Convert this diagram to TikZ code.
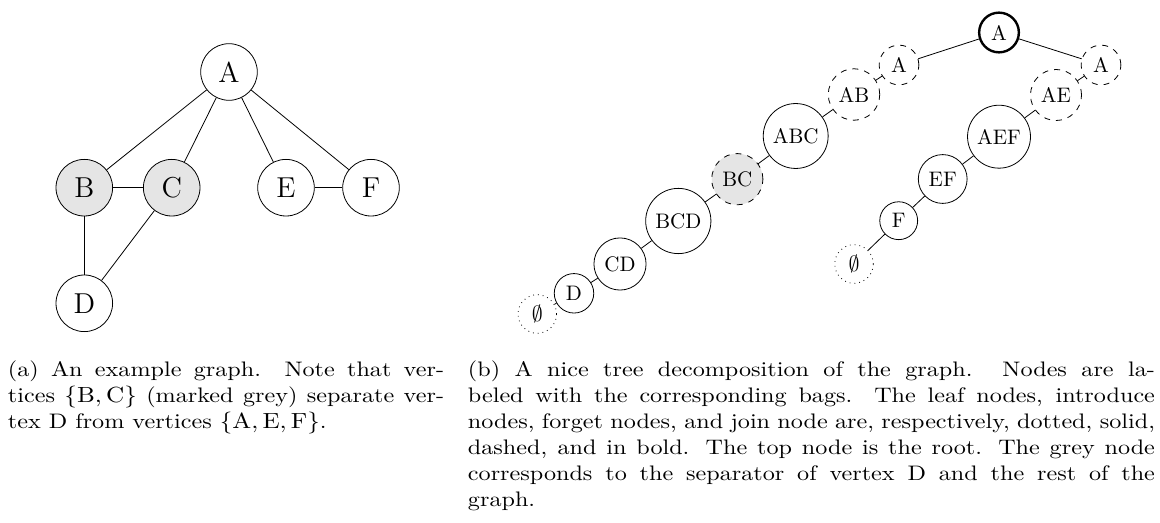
\documentclass[tikz,border=0pt]{standalone}
\usepackage{tikz}
\usepackage{amsmath,amssymb}
\setlength{\parindent}{0pt}

\begin{document}
\begin{tikzpicture}[x=0.5pt,y=-0.5pt,
  vtx/.style={draw,circle,minimum size=28.3pt,inner sep=0pt,font=\fontsize{14.4}{17}\selectfont},
  sepv/.style={vtx,fill=black!10},
  introbag/.style={draw,circle,inner sep=3.2pt,font=\fontsize{10.5}{12}\selectfont},
  forgetbag/.style={introbag,dashed},
  leafbag/.style={introbag,dotted},
  joinbag/.style={introbag,very thick},
  captxt/.style={anchor=north west,align=justify,inner sep=0pt,xscale=1.15,transform shape,font=\fontsize{10.5}{13}\selectfont}]
  \useasboundingbox (0,0) rectangle (1160,523);
  \node[vtx] (va) at (229,72) {A};
  \node[sepv] (vb) at (84.3,187.7) {B};
  \node[sepv] (vc) at (171.7,187.7) {C};
  \node[vtx] (ve) at (286,187.7) {E};
  \node[vtx] (vf) at (371,187.7) {F};
  \node[vtx] (vd) at (84.3,303.3) {D};
  \draw (va)--(vb); \draw (va)--(vc); \draw (va)--(ve); \draw (va)--(vf);
  \draw (vb)--(vc); \draw (ve)--(vf); \draw (vb)--(vd); \draw (vc)--(vd);
  \node[joinbag] (root) at (999,32.5) {A};
  \node[forgetbag] (fa) at (899,65) {A};
  \node[forgetbag] (fa2) at (1101,65) {A};
  \node[forgetbag] (fab) at (854,94.5) {AB};
  \node[forgetbag] (fae) at (1056,95) {AE};
  \node[introbag] (iabc) at (795.7,136) {ABC};
  \node[introbag] (iaef) at (999,136.7) {AEF};
  \node[forgetbag,fill=black!10] (fbc) at (737.3,179.2) {BC};
  \node[introbag] (ief) at (942.7,179) {EF};
  \node[introbag] (ibcd) at (678.3,221) {BCD};
  \node[introbag] (if) at (898.7,220.7) {F};
  \node[introbag] (icd) at (620,264) {CD};
  \node[leafbag] (lf) at (854,264) {$\emptyset$};
  \node[introbag] (id) at (574,293.3) {D};
  \node[leafbag] (ld) at (537.3,314) {$\emptyset$};
  \draw (root)--(fa); \draw (fa)--(fab); \draw (fab)--(iabc); \draw (iabc)--(fbc);
  \draw (fbc)--(ibcd); \draw (ibcd)--(icd); \draw (icd)--(id); \draw (id)--(ld);
  \draw (root)--(fa2); \draw (fa2)--(fae); \draw (fae)--(iaef); \draw (iaef)--(ief);
  \draw (ief)--(if); \draw (if)--(lf);
  \node[captxt,text width=189.6pt] (capa) at (7.5,360) {(a) An example graph. Note that ver-\linebreak tices $\{\mathrm{B},\mathrm{C}\}$ (marked grey) separate ver-\linebreak tex D from vertices $\{\mathrm{A},\mathrm{E},\mathrm{F}\}$.};
  \node[captxt,text width=298.7pt] (capb) at (467.5,360) {(b) A nice tree decomposition of the graph. Nodes are la-\linebreak beled with the corresponding bags. The leaf nodes, introduce\linebreak nodes, forget nodes, and join node are, respectively, dotted, solid,\linebreak dashed, and in bold. The top node is the root. The grey node\linebreak corresponds to the separator of vertex D and the rest of the\linebreak graph.};
\end{tikzpicture}
\end{document}
